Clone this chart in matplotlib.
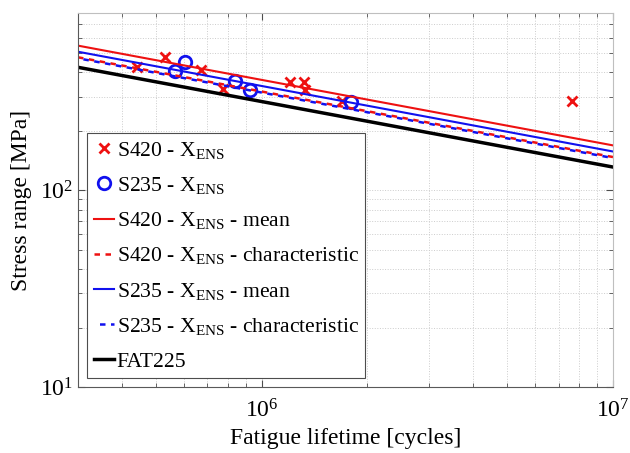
import numpy as np
import matplotlib
matplotlib.use('Agg')
import matplotlib.pyplot as plt
from matplotlib.ticker import LogLocator, NullFormatter

plt.rcParams['font.family'] = 'Liberation Serif'
plt.rcParams['mathtext.fontset'] = 'custom'
plt.rcParams['mathtext.rm'] = 'Liberation Serif'
plt.rcParams['mathtext.it'] = 'Liberation Serif:italic'

# test data
s420_n = [4.43e5, 5.32e5, 6.70e5, 7.74e5, 1.207e6, 1.318e6, 1.326e6, 1.698e6, 7.64e6]
s420_s = [423, 477, 409, 327, 357, 357, 325, 286, 285]
s235_n = [6.04e5, 5.65e5, 8.38e5, 9.24e5, 1.80e6]
s235_s = [452, 406, 361, 324, 282]

# S-N curves: stress range at 2e6 cycles, slope m = 3
fat_s420_mean = 290
fat_s420_char = 253
fat_s235_mean = 270
fat_s235_char = 250
fat_ref = 225
slope_m = 3
n_range = np.array([3e5, 1e7])


def sn_curve(fat):
    return fat * (2e6 / n_range) ** (1.0 / slope_m)


fig = plt.figure(figsize=(6.3, 4.53), dpi=100)
ax = fig.add_axes([0.1238, 0.1457, 0.8492, 0.8256])

ax.plot(s420_n, s420_s, 'x', color='#ee1111', ms=7, mew=2, ls='none', label='S420 - X$_\\mathrm{ENS}$')
ax.plot(s235_n, s235_s, 'o', color='#1111ee', ms=9, mew=2, mfc='none', ls='none', label='S235 - X$_\\mathrm{ENS}$')
ax.plot(n_range, sn_curve(fat_s420_mean), color='#ee1111', lw=1.5, label='S420 - X$_\\mathrm{ENS}$ - mean')
ax.plot(n_range, sn_curve(fat_s420_char), color='#ee1111', lw=1.8, ls=(0, (2.2, 2.2)),
        label='S420 - X$_\\mathrm{ENS}$ - characteristic')
ax.plot(n_range, sn_curve(fat_s235_mean), color='#1111ee', lw=1.5, label='S235 - X$_\\mathrm{ENS}$ - mean')
ax.plot(n_range, sn_curve(fat_s235_char), color='#1111ee', lw=1.8, ls=(2.2, (2.2, 2.2)),
        label='S235 - X$_\\mathrm{ENS}$ - characteristic')
ax.plot(n_range, sn_curve(fat_ref), color='black', lw=2.5, label='FAT225')

ax.set_xscale('log')
ax.set_yscale('log')
ax.set_xlim(3e5, 1e7)
ax.set_ylim(10, 800)
ax.xaxis.set_minor_locator(LogLocator(subs=np.arange(2, 10)))
ax.yaxis.set_minor_locator(LogLocator(subs=np.arange(2, 10)))
ax.xaxis.set_minor_formatter(NullFormatter())
ax.yaxis.set_minor_formatter(NullFormatter())
ax.grid(True, which='both', color='#cccccc', ls=':', lw=0.7)
ax.tick_params(which='both', direction='in', top=True, right=True, labelsize=17, color='0.3')
ax.tick_params(which='major', length=5)
ax.tick_params(which='minor', length=3)
ax.tick_params(axis='x', pad=9)
for side in ['top', 'right']:
    ax.spines[side].set_color('0.75')
for side in ['left', 'bottom']:
    ax.spines[side].set_color('0.35')

ax.set_xlabel('Fatigue lifetime [cycles]', fontsize=17, labelpad=4)
ax.set_ylabel('Stress range [MPa]', fontsize=17, labelpad=6)

leg = ax.legend(loc='lower left', bbox_to_anchor=(0.017, 0.024), borderaxespad=0,
                fontsize=15.6, handlelength=0.95, handletextpad=0.12, labelspacing=0.66,
                borderpad=0.3, fancybox=False, framealpha=1, edgecolor='0.3')
leg.get_frame().set_linewidth(0.8)

plt.savefig('out.png', dpi=100)
